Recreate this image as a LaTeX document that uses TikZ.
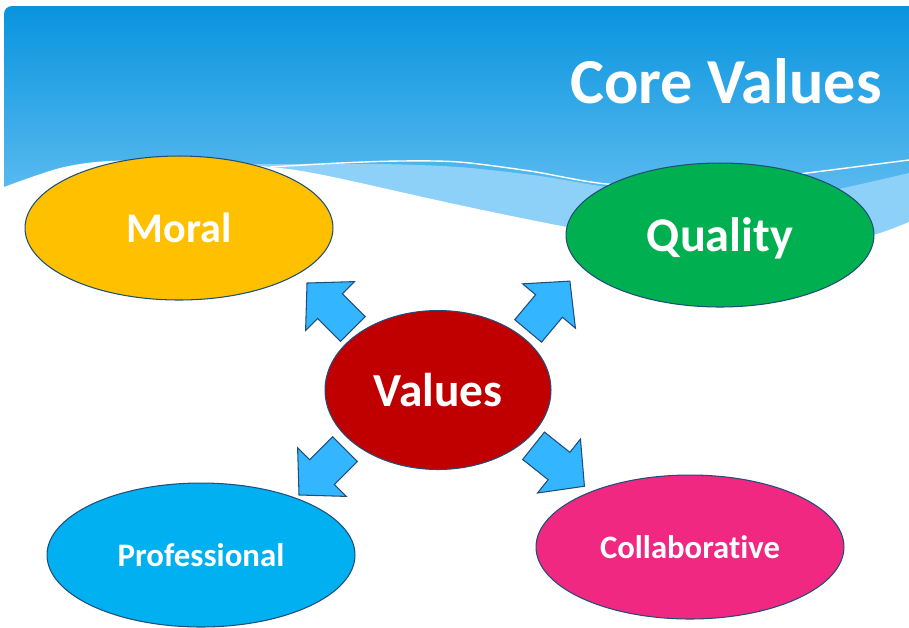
\documentclass[tikz,border=0pt]{standalone}
\usepackage{fontspec}
\setmainfont{Carlito}[Ligatures=NoCommon]
\usetikzlibrary{shapes.geometric}

\definecolor{skytop}{RGB}{8,148,222}
\definecolor{skybot}{RGB}{120,200,245}
\definecolor{waveband}{RGB}{142,209,248}
\definecolor{rimblue}{RGB}{31,78,121}
\definecolor{moralfill}{RGB}{255,192,0}
\definecolor{qualityfill}{RGB}{0,176,80}
\definecolor{valuesfill}{RGB}{192,0,0}
\definecolor{proffill}{RGB}{0,176,240}
\definecolor{collabfill}{RGB}{240,40,130}
\definecolor{arrowfill}{RGB}{51,181,255}

\begin{document}
\begin{tikzpicture}[x=0.02cm,y=-0.02cm]
\tikzstyle{every node}+=[inner sep=0pt]
\tikzstyle{oval}=[ellipse, draw=rimblue, line width=0.6pt, text=white, text depth=0pt, minimum width=6.16cm, minimum height=2.88cm]
\tikzstyle{fatarrow}=[fill=arrowfill, draw=rimblue, line width=0.6pt, line join=miter]
\useasboundingbox (0,0) rectangle (909,627);
% banner and waves
\shade [top color=skytop, bottom color=skybot] (4,260) -- (4,14) arc [start angle=180, end angle=270, radius=8] -- (909,6) -- (909,260) -- cycle;
\fill [waveband] plot [smooth] coordinates {(240,164) (300,164) (380,164) (459,167) (540,176) (607,187) (700,197) (780,196) (833,190) (909,173)} -- (909,300) -- (240,300) -- cycle;
\draw [white, line width=0.8pt] plot [smooth] coordinates {(270,167) (340,163) (400,161) (459,162) (530,171) (607,184) (700,186) (807,173) (909,160)};
\fill [white] plot [smooth] coordinates {(4,187) (60,168) (110,161) (200,161) (280,168) (333,177) (459,205) (567,227) (660,242) (740,246) (820,242) (873,235) (909,222)} -- (909,320) -- (0,320) -- cycle;
\node [anchor=base east, text=white, font=\bfseries\fontsize{36.5}{36.5}\selectfont] (title) at (882,103) {Core Values};
% ovals
\node [oval, fill=moralfill, font=\bfseries\fontsize{24}{24}\selectfont] (moral) at (179,228) {Moral};
\node [oval, fill=qualityfill, font=\bfseries\fontsize{27.5}{27.5}\selectfont] (quality) at (720,235) {Quality};
\node [oval, fill=valuesfill, minimum width=4.52cm, minimum height=3.18cm, font=\bfseries\fontsize{27}{27}\selectfont] (values) at (438,390) {Values};
\node [oval, fill=proffill, font=\bfseries\fontsize{18.7}{18.7}\selectfont] (prof) at (201,555) {Professional};
\node [oval, fill=collabfill, font=\bfseries\fontsize{18.6}{18.6}\selectfont] (collab) at (690,547) {Collaborative};
% block arrows
\foreach \cx/\cy/\ang in {330/306/135, 549/306/50, 322/472/225, 559/466/-38.5}
  \draw [fatarrow, shift={(\cx,\cy)}, rotate=\ang] (-32.5,-17.5) -- (0,-17.5) -- (0,-34.5) -- (32.5,0) -- (0,34.5) -- (0,17.5) -- (-32.5,17.5) -- cycle;
\end{tikzpicture}
\end{document}
